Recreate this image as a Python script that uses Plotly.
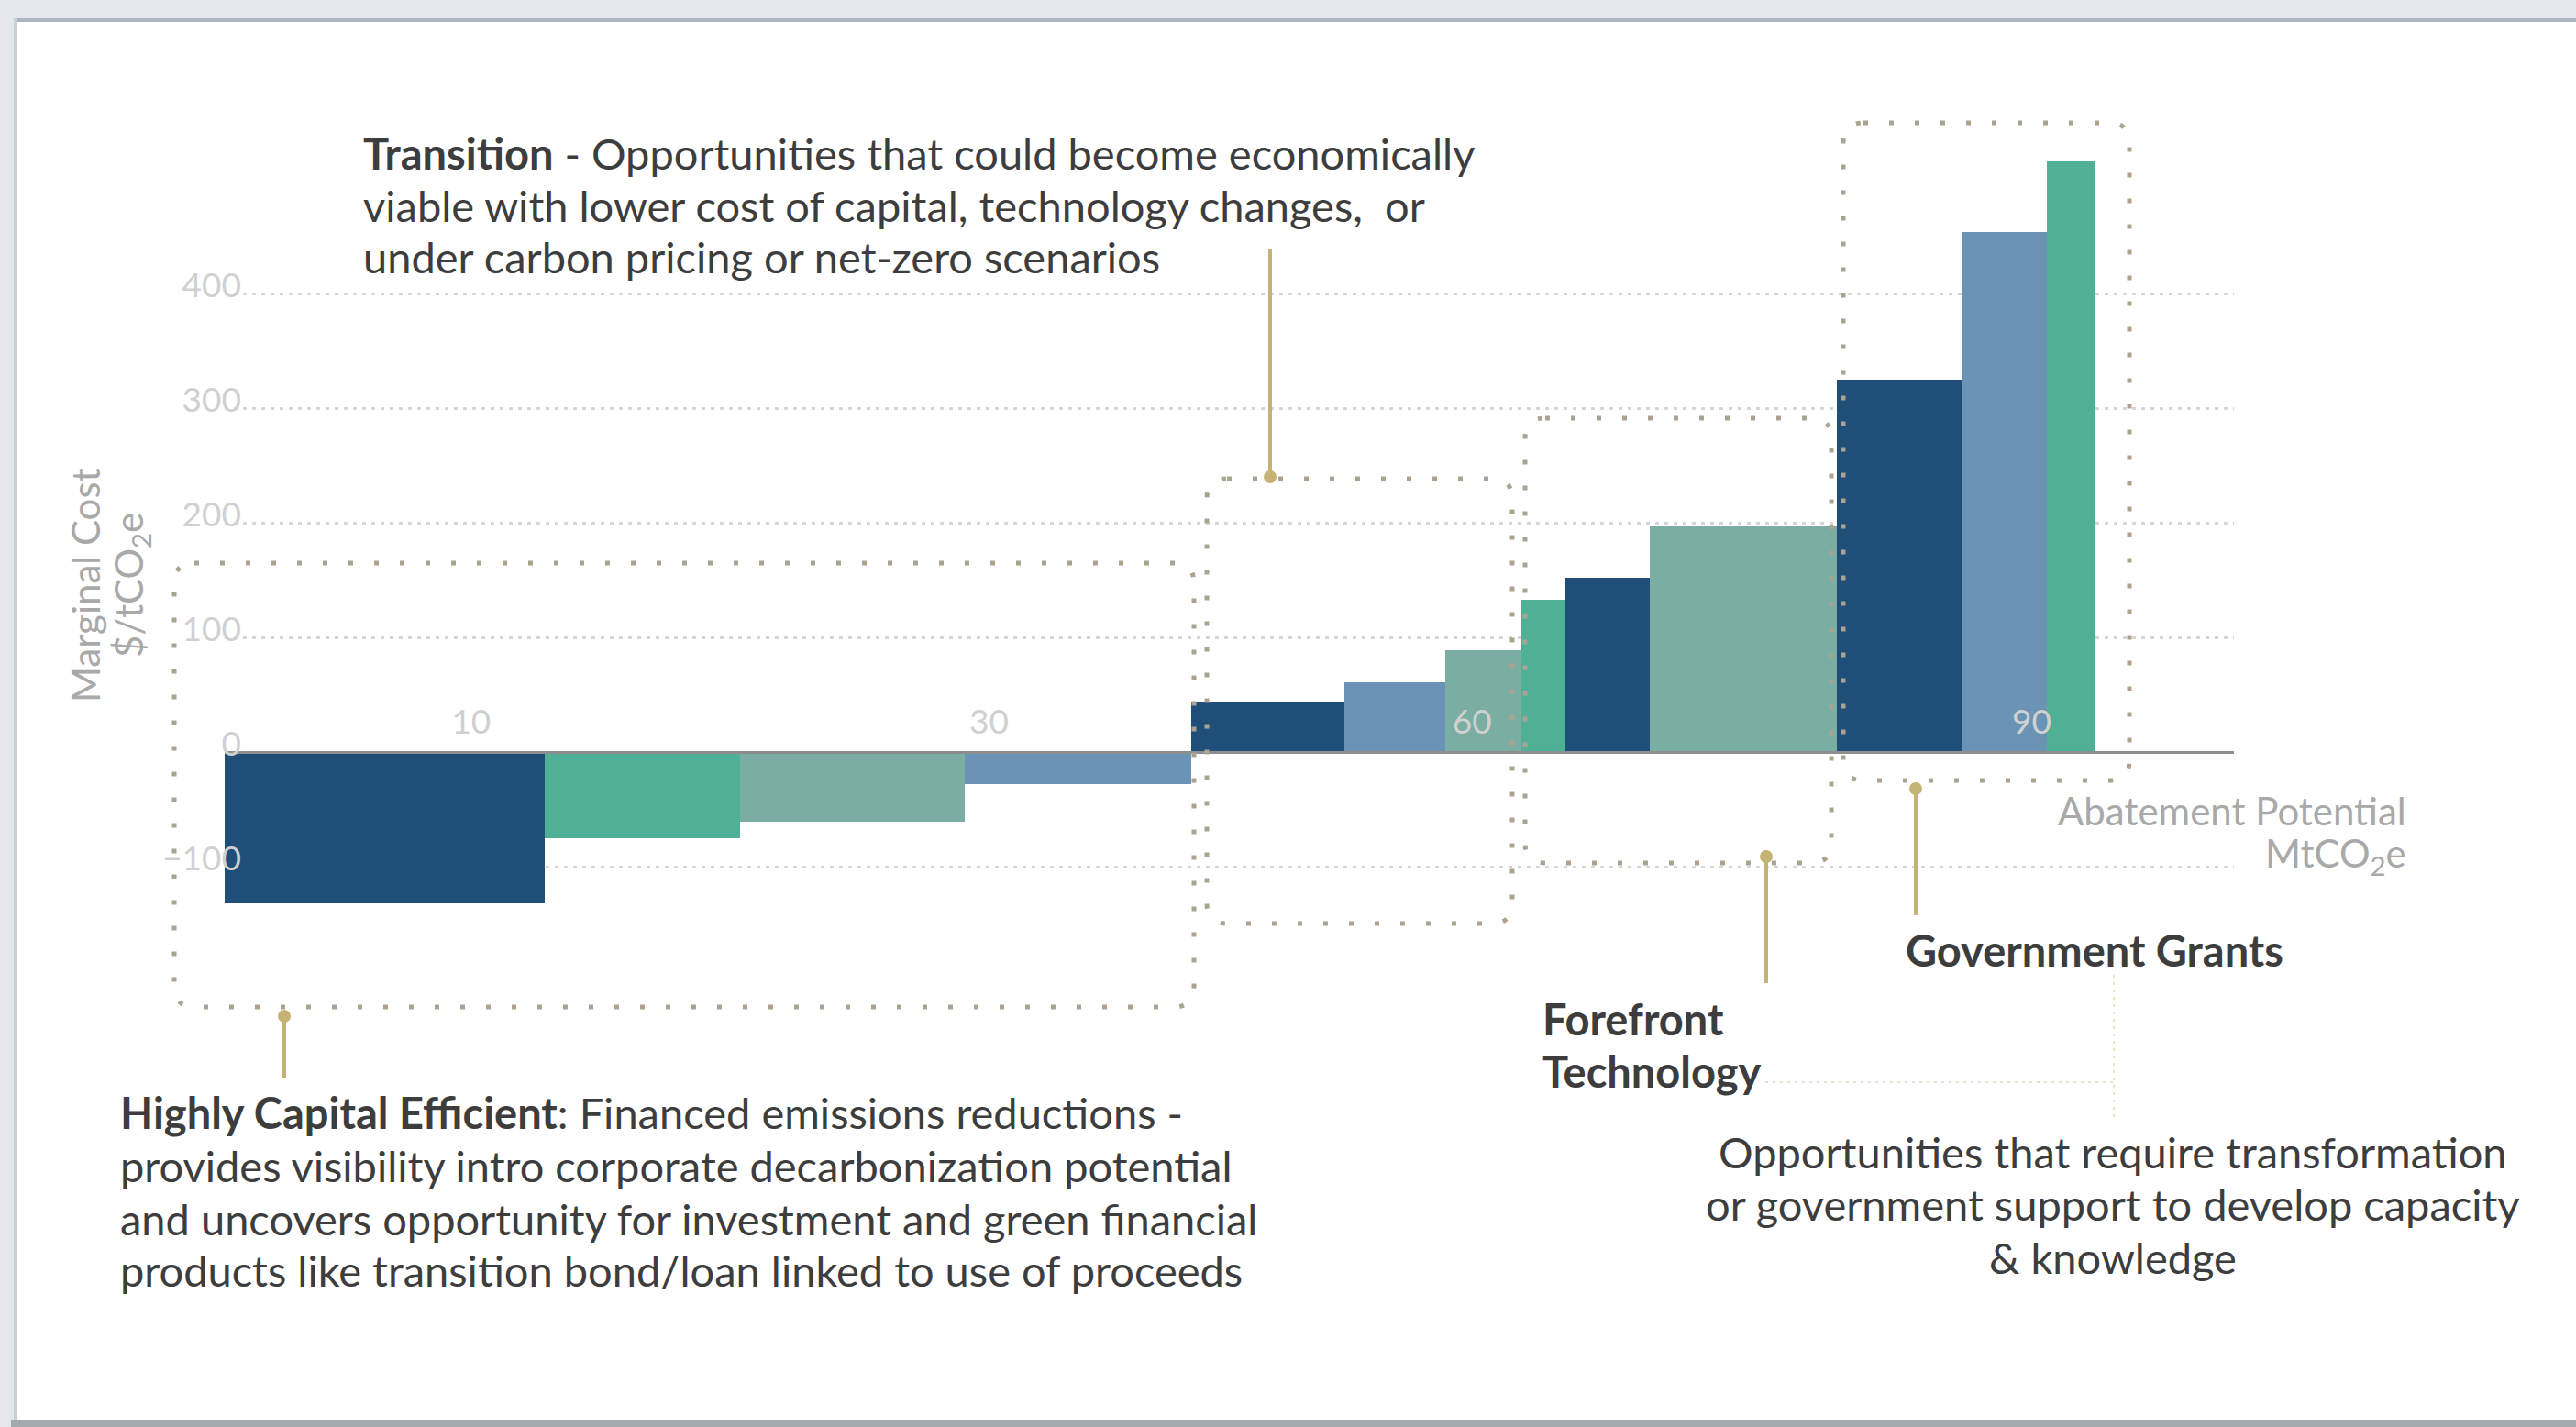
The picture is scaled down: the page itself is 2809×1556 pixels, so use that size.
import numpy as np
import plotly.graph_objects as go

# Marginal abatement cost curve: block width = abatement potential (MtCO2e),
# block height = marginal cost ($/tCO2e)
abatement_mt = [13.0, 7.9, 9.1, 9.2, 6.2, 4.1, 3.1, 1.8, 3.4, 7.6, 5.1, 3.4, 2.0]
cost_usd_t = [-132, -75, -61, -28, 43, 61, 89, 133, 152, 197, 325, 454, 515]
bar_tone = ["navy", "green", "sage", "steel",
            "navy", "steel", "sage",
            "green", "navy", "sage",
            "navy", "steel", "green"]

y_tick_values = [-100, 0, 100, 200, 300, 400]
x_tick_text = ["10", "30", "60", "90"]
x_tick_at = [10, 31, 50.6, 73.3]

palette = {"navy": "#1f4e79", "green": "#50b095", "sage": "#7aaea3", "steel": "#6b93b5"}

# ---- canvas geometry (pixels) ----
W, H = 2809, 1556
PL, PR, PT, PB = 245, 2436, 120, 1020
Y_RANGE = [-160, 560]
X_RANGE = [0, 81.5]


def px(x):
    return (x - PL) / (PR - PL)


def py(y):
    return (PB - y) / (PB - PT)


widths = np.array(abatement_mt)
lefts = np.concatenate([[0.0], np.cumsum(widths)[:-1]])
centers = lefts + widths / 2

fig = go.Figure()
fig.add_trace(go.Bar(
    x=centers, y=cost_usd_t, width=widths,
    marker=dict(color=[palette[t] for t in bar_tone], line=dict(width=0)),
    hoverinfo="skip", showlegend=False,
))

shapes = []

# card background and frame
shapes += [
    dict(type="rect", xref="paper", yref="paper", layer="below",
         x0=px(17), x1=px(2830), y0=py(21), y1=py(1548),
         fillcolor="white", line=dict(width=0)),
    dict(type="rect", xref="paper", yref="paper", layer="below",
         x0=px(15), x1=px(2830), y0=py(20), y1=py(24),
         fillcolor="#aeb7c0", line=dict(width=0)),
    dict(type="rect", xref="paper", yref="paper", layer="below",
         x0=px(15), x1=px(18), y0=py(20), y1=py(1550),
         fillcolor="#c9d0d6", line=dict(width=0)),
    dict(type="rect", xref="paper", yref="paper", layer="below",
         x0=px(12), x1=px(2830), y0=py(1548), y1=py(1560),
         fillcolor="#a4a9ae", line=dict(width=0)),
]


def rounded_box(x0, y0, x1, y1, r):
    rx, ry = r / (PR - PL), r / (PB - PT)
    a, b, c, d = px(x0), px(x1), py(y0), py(y1)
    return (f"M {a+rx},{c} L {b-rx},{c} Q {b},{c} {b},{c-ry} "
            f"L {b},{d+ry} Q {b},{d} {b-rx},{d} L {a+rx},{d} "
            f"Q {a},{d} {a},{d+ry} L {a},{c-ry} Q {a},{c} {a+rx},{c} Z")


dot_line = dict(color="#aaa391", width=5, dash="5px,23px")
for (x0, y0, x1, y1) in [(190, 614, 1302, 1098),
                         (1316, 522, 1649, 1007),
                         (1663, 456, 1997, 941),
                         (2010, 134, 2322, 851)]:
    shapes.append(dict(type="path", xref="paper", yref="paper", layer="above",
                       path=rounded_box(x0, y0, x1, y1, 22), line=dot_line))

# faint guide lines near the Forefront / Government labels
faint = dict(color="#e8e2d2", width=2, dash="3px,5px")
shapes.append(dict(type="line", xref="paper", yref="paper", x0=px(1925), x1=px(2307),
                   y0=py(1180), y1=py(1180), line=faint))
shapes.append(dict(type="line", xref="paper", yref="paper", x0=px(2305), x1=px(2305),
                   y0=py(1063), y1=py(1220), line=faint))

# connectors from boxes to their labels
gold = "#c5b275"
for (x, y_dot, y_end) in [(310, 1108, 1175), (1385, 520, 272),
                          (1926, 934, 1072), (2089, 860, 998)]:
    shapes.append(dict(type="line", xref="paper", yref="paper", x0=px(x), x1=px(x),
                       y0=py(y_dot), y1=py(y_end), line=dict(color=gold, width=4)))
    shapes.append(dict(type="circle", xref="paper", yref="paper",
                       xsizemode="pixel", ysizemode="pixel",
                       xanchor=px(x), yanchor=py(y_dot),
                       x0=-7, x1=7, y0=-7, y1=7,
                       fillcolor=gold, line=dict(width=0)))

dark = "#3d3d3d"
body_font = dict(family="Lato", size=47, color=dark)
grey_font = dict(family="Lato", size=42, color="#a9a9a9")

annotations = []


def text_line(x, y, s, anchor="left", font=body_font, **kw):
    annotations.append(dict(x=px(x), y=py(y), xanchor=anchor, yanchor="middle",
                            text=s, font=font, **kw))


# Transition callout
for y, s in [(167, "<b>Transition</b> - Opportunities that could become economically"),
             (224, "viable with lower cost of capital, technology changes,  or"),
             (280, "under carbon pricing or net-zero scenarios")]:
    text_line(394, y, s)

# Highly capital efficient callout
for y, s in [(1213, "<b>Highly Capital Efficient</b>: Financed emissions reductions -"),
             (1271, "provides visibility intro corporate decarbonization potential"),
             (1329, "and uncovers opportunity for investment and green financial"),
             (1385, "products like transition bond/loan linked to use of proceeds")]:
    text_line(129, y, s)

text_line(1680, 1111, "<b>Forefront</b>")
text_line(1680, 1168, "<b>Technology</b>")
text_line(2076, 1036, "<b>Government Grants</b>")

for y, s in [(1256, "Opportunities that require transformation"),
             (1313, "or government support to develop capacity"),
             (1371, "& knowledge")]:
    text_line(2304, y, s, anchor="center")

# axis titles
text_line(2626, 884, "Abatement Potential", anchor="right", font=grey_font)
text_line(2626, 933, "MtCO<sub>2</sub>e", anchor="right", font=grey_font)
text_line(93, 638, "Marginal Cost", anchor="center", font=grey_font, textangle=-90)
text_line(143, 638, "$/tCO<sub>2</sub>e", anchor="center", font=grey_font, textangle=-90)

for a in annotations:
    a.update(xref="paper", yref="paper", showarrow=False)

tick_font = dict(family="Lato", size=37, color="#d0d0d0")

fig.update_layout(
    width=W, height=H,
    margin=dict(l=PL, r=W - PR, t=PT, b=H - PB, pad=0),
    paper_bgcolor="#e4e8ec",
    plot_bgcolor="rgba(0,0,0,0)",
    bargap=0,
    shapes=shapes,
    annotations=annotations,
    xaxis=dict(
        range=X_RANGE, anchor="free",
        position=(0 - Y_RANGE[0]) / (Y_RANGE[1] - Y_RANGE[0]),
        showgrid=False, zeroline=False,
        showline=True, linecolor="#8e8e8e", linewidth=3,
        tickvals=x_tick_at, ticktext=x_tick_text,
        ticks="", ticklabelposition="outside", ticklabelstandoff=-66,
        tickfont=tick_font,
        layer="above traces", fixedrange=True,
    ),
    yaxis=dict(
        range=Y_RANGE, tickvals=y_tick_values,
        showgrid=True, gridcolor="rgba(212,212,212,0.95)", gridwidth=2.5,
        griddash="4px,6px", zeroline=False, showline=False,
        ticks="", tickfont=tick_font, ticklabelshift=-9, ticklabelstandoff=-19,
        layer="above traces", fixedrange=True,
    ),
)

fig.write_html("out.html")
